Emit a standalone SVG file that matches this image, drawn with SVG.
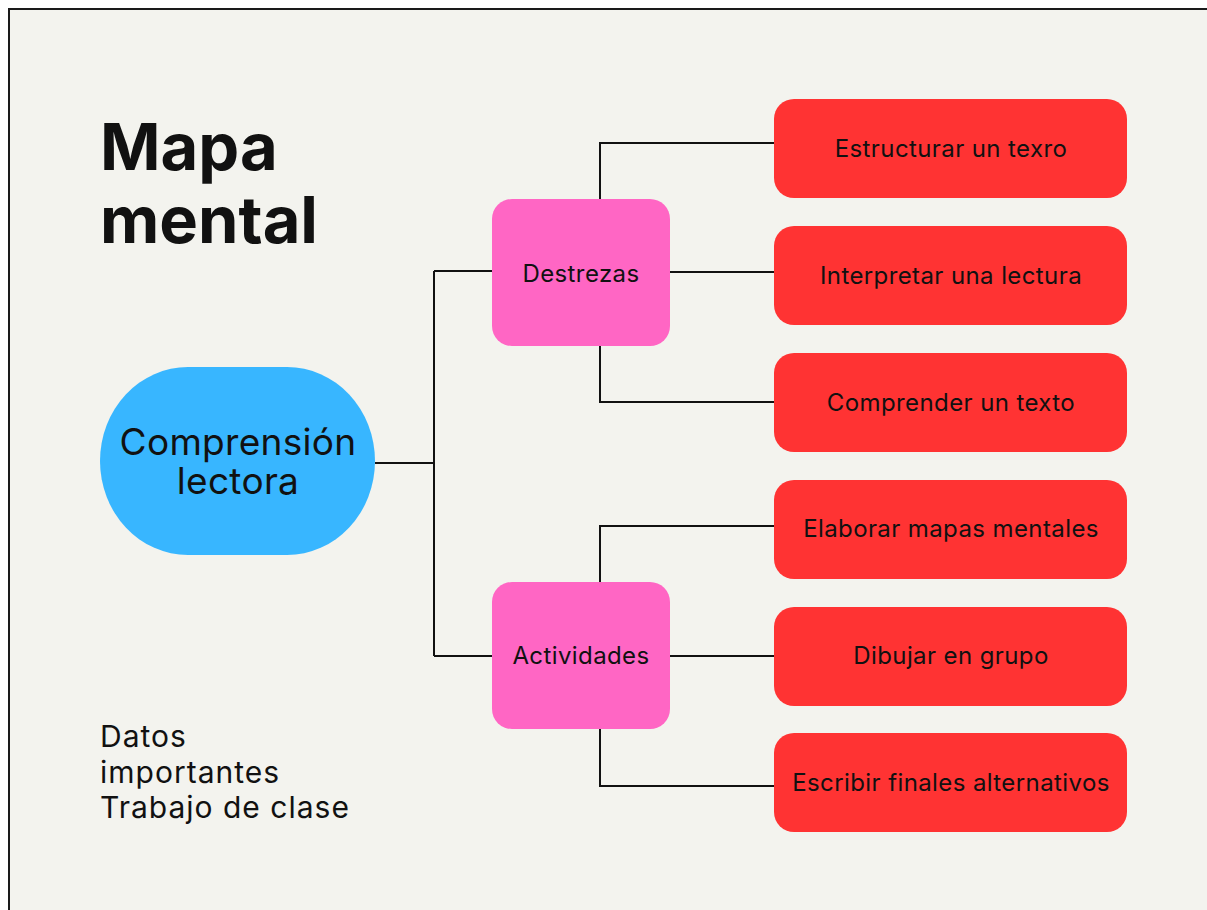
<svg xmlns="http://www.w3.org/2000/svg" width="1207" height="910" viewBox="0 0 1207 910">
<style>
.bg{fill:#f3f3ee;stroke:#1a1a1a;stroke-width:2}
.leaf{fill:#ff3333}
.mid{fill:#ff66c4}
.root{fill:#38b6ff}
.conn{fill:none;stroke:#111;stroke-width:2}
text{font-family:Inter,"Liberation Sans",sans-serif;fill:#111}
.lt{font-size:24px;letter-spacing:0.4px;text-anchor:middle}
.mt{font-size:24px;letter-spacing:0.4px;text-anchor:middle}
.rt{font-size:37px;letter-spacing:0.3px;text-anchor:middle}
.tt{font-size:65px;font-weight:700}
.nt{font-size:30px;letter-spacing:1px}
</style>
<rect x="0" y="0" width="1207" height="910" fill="#ffffff"/>
<rect class="bg" x="9" y="9" width="1220" height="920"/>
<g id="title"><text class="tt" x="100" y="170">Mapa</text><text class="tt" x="100" y="243">mental</text></g>
<g id="notes"><text class="nt" x="100" y="747">Datos</text><text class="nt" x="100" y="783">importantes</text><text class="nt" x="100" y="818">Trabajo de clase</text></g>
<g id="connectors">
<path class="conn" d="M375 463H434M434 271V656M434 271H492M434 656H492"/>
<path class="conn" d="M600 199V143H774M670 272H774M600 346V402H774"/>
<path class="conn" d="M600 582V526H774M670 656H774M600 729V786H774"/>
</g>
<g id="root"><rect class="root" x="100" y="367" width="275" height="188" rx="88" ry="94"/><text class="rt" x="238" y="455">Comprensión</text><text class="rt" x="238" y="494">lectora</text></g>
<g id="destrezas"><rect class="mid" x="492" y="199" width="178" height="147" rx="20"/><text class="mt" x="581" y="282">Destrezas</text></g>
<g id="actividades"><rect class="mid" x="492" y="582" width="178" height="147" rx="20"/><text class="mt" x="581" y="664">Actividades</text></g>
<g id="n1"><rect class="leaf" x="774" y="99" width="353" height="99" rx="20"/><text class="lt" x="951" y="157">Estructurar un texro</text></g>
<g id="n2"><rect class="leaf" x="774" y="226" width="353" height="99" rx="20"/><text class="lt" x="951" y="284">Interpretar una lectura</text></g>
<g id="n3"><rect class="leaf" x="774" y="353" width="353" height="99" rx="20"/><text class="lt" x="951" y="411">Comprender un texto</text></g>
<g id="n4"><rect class="leaf" x="774" y="480" width="353" height="99" rx="20"/><text class="lt" x="951" y="537">Elaborar mapas mentales</text></g>
<g id="n5"><rect class="leaf" x="774" y="607" width="353" height="99" rx="20"/><text class="lt" x="951" y="664">Dibujar en grupo</text></g>
<g id="n6"><rect class="leaf" x="774" y="733" width="353" height="99" rx="20"/><text class="lt" x="951" y="791">Escribir finales alternativos</text></g>
</svg>
